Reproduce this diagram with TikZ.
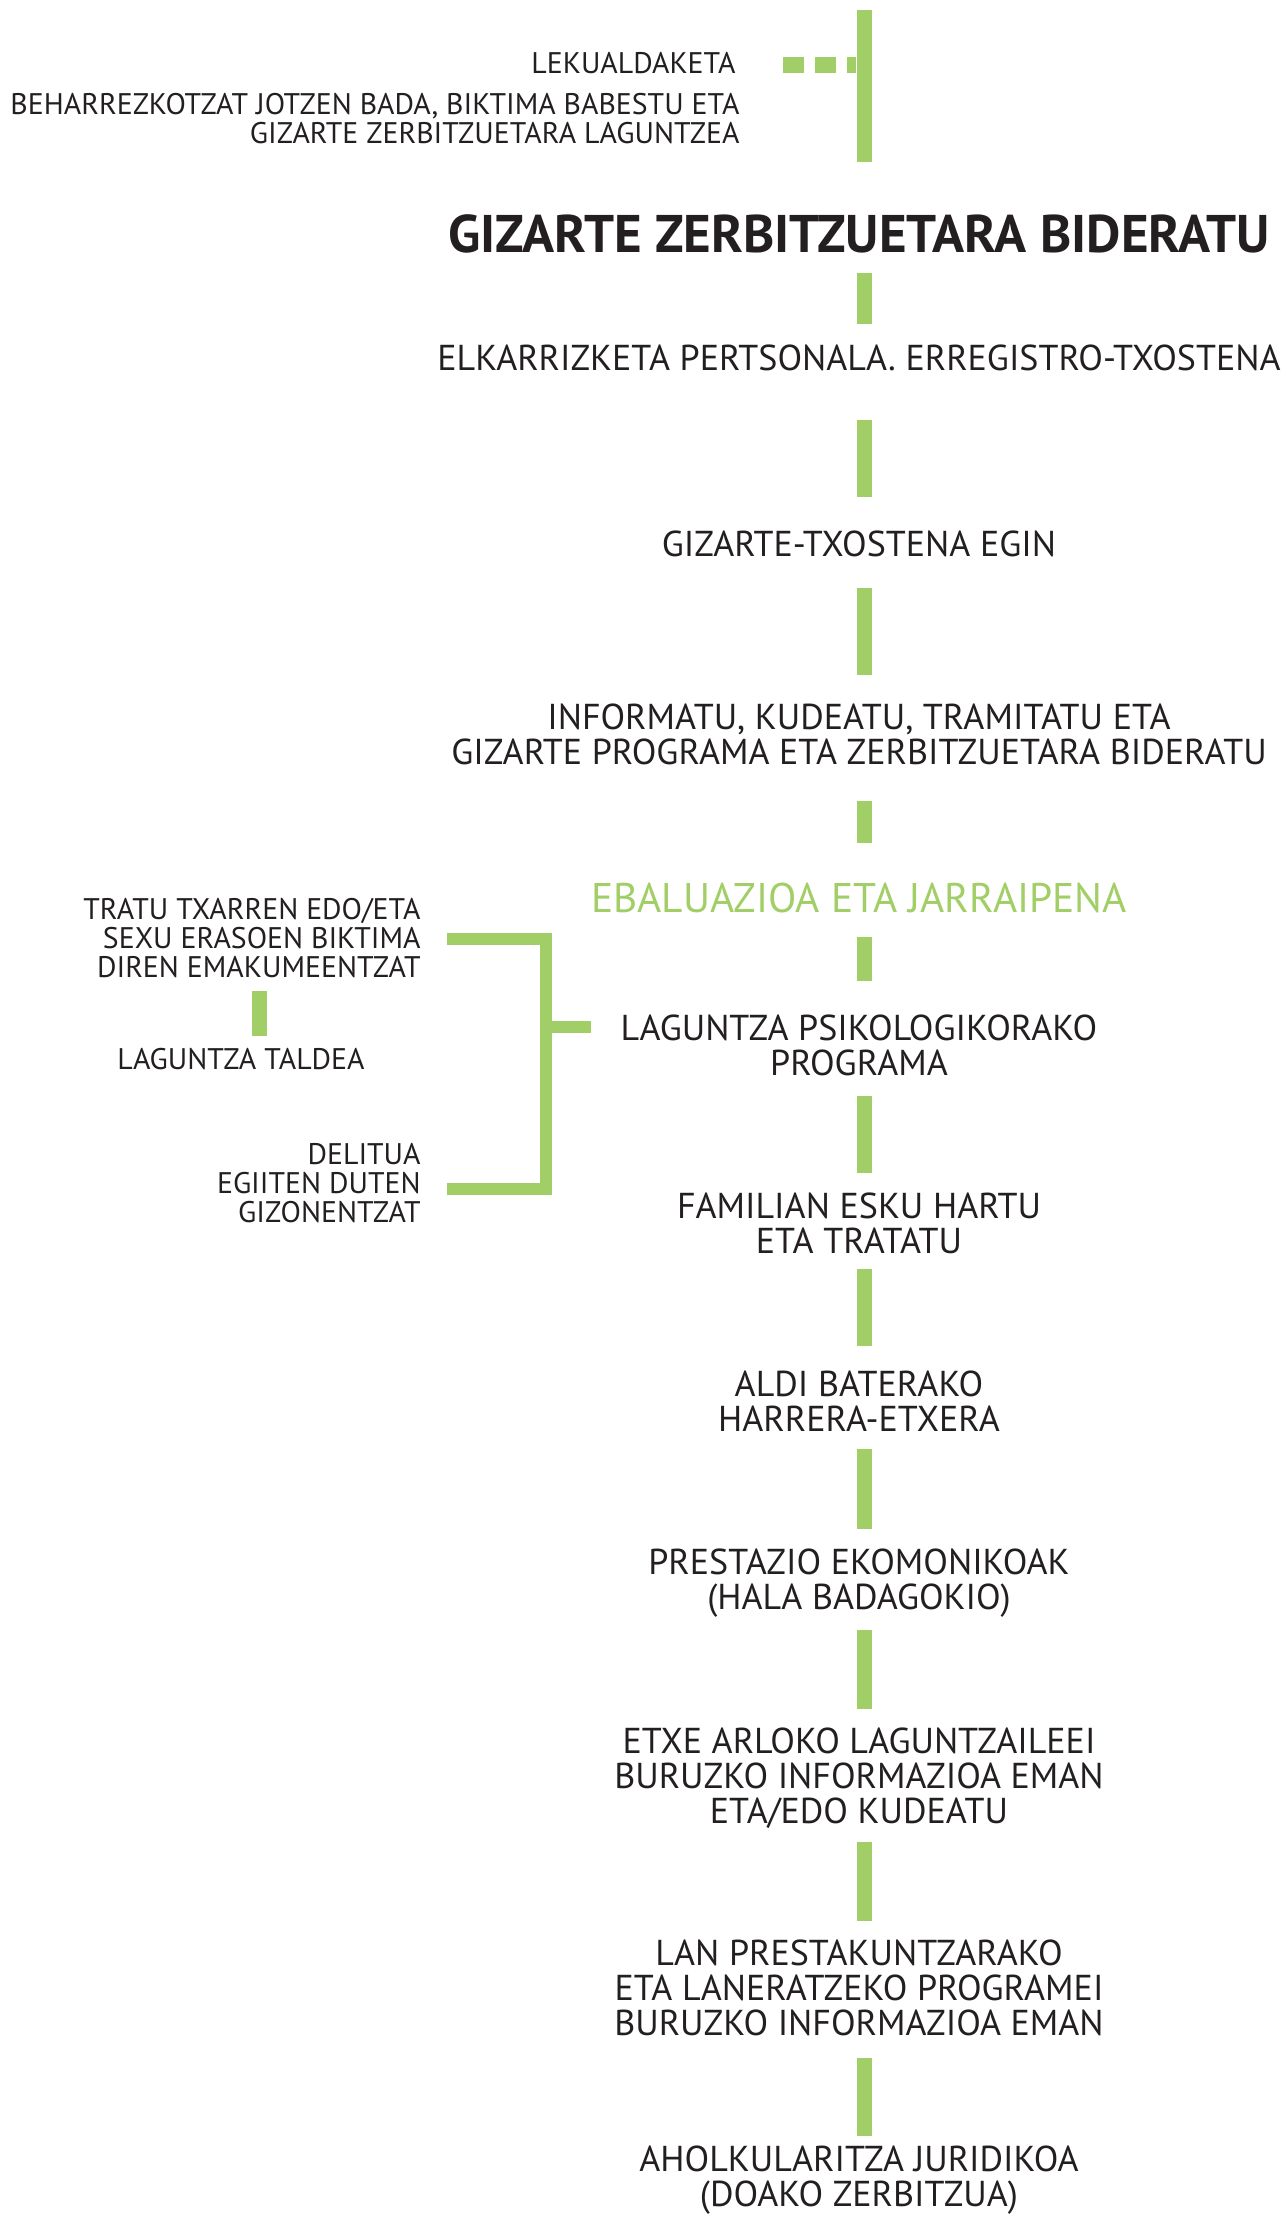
\documentclass[tikz,border=0pt]{standalone}
\usepackage{fontspec}
\setmainfont{PT Sans}
\definecolor{lgreen}{RGB}{162,206,103}
\definecolor{ink}{RGB}{35,31,32}
\newcommand{\GreenBar}[3]{
\coordinate (#1T) at (864,#2);
\coordinate (#1B) at (864,#3);
\draw[bar] (#1T)--(#1B);
}

\begin{document}
\begin{tikzpicture}[x=0.5pt, y=-0.5pt,
bar/.style={draw=lgreen, line width=7.5pt},
bracket/.style={draw=lgreen, line width=6pt},
stage/.style={font=\fontsize{18}{17.5}\selectfont, text=ink, align=center, inner sep=0, anchor=base},
side/.style={font=\fontsize{14.9}{14.5}\selectfont, text=ink, align=right, inner sep=0, anchor=base east},
title/.style={font=\bfseries\fontsize{26.5}{28}\selectfont, text=ink, inner sep=0, anchor=base},
review/.style={stage, text=lgreen, font=\fontsize{20.7}{20}\selectfont}]
\useasboundingbox (0,0) rectangle (1287,2215);
%%%%%%%%%%%%%%%%%%%%%%% TOP %%%%%%%%%%%%%%%%%%%%%%%
\node[side] (move) at (736,74) {LEKUALDAKETA};
\node[side] (protect) at (740,144) {BEHARREZKOTZAT JOTZEN BADA, BIKTIMA BABESTU ETA\\GIZARTE ZERBITZUETARA LAGUNTZEA};
\GreenBar{b0}{10}{162}
\coordinate (moveA) at (783,65);
\coordinate (moveB) at (856,65);
\draw[draw=lgreen, line width=8pt, dash pattern=on 10.5pt off 5.5pt] (moveA)--(moveB);
\node[title] (refer) at (859,253) {GIZARTE ZERBITZUETARA BIDERATU};
%%%%%%%%%%%%%%%%%%%%%%% MAIN COLUMN %%%%%%%%%%%%%%%%%%%%%%%
\GreenBar{b1}{273}{324}
\node[stage] (interview) at (859,370) {ELKARRIZKETA PERTSONALA. ERREGISTRO-TXOSTENA};
\GreenBar{b2}{420}{497}
\node[stage] (report) at (859,556) {GIZARTE-TXOSTENA EGIN};
\GreenBar{b3}{588}{675}
\node[stage] (inform) at (859,764) {INFORMATU, KUDEATU, TRAMITATU ETA\\GIZARTE PROGRAMA ETA ZERBITZUETARA BIDERATU};
\GreenBar{b4}{801}{843}
\node[review] (review) at (859,912) {EBALUAZIOA ETA JARRAIPENA};
\GreenBar{b5}{937}{981}
\node[stage] (psy) at (859,1075) {LAGUNTZA PSIKOLOGIKORAKO\\PROGRAMA};
\GreenBar{b6}{1096}{1173}
\node[stage] (family) at (859,1253) {FAMILIAN ESKU HARTU\\ETA TRATATU};
\GreenBar{b7}{1269}{1346}
\node[stage] (shelter) at (859,1431) {ALDI BATERAKO\\HARRERA-ETXERA};
\GreenBar{b8}{1449}{1529}
\node[stage] (benefit) at (859,1609) {PRESTAZIO EKOMONIKOAK\\(HALA BADAGOKIO)};
\GreenBar{b9}{1630}{1709}
\node[stage] (home) at (859,1823) {ETXE ARLOKO LAGUNTZAILEEI\\BURUZKO INFORMAZIOA EMAN\\ETA/EDO KUDEATU};
\GreenBar{b10}{1842}{1921}
\node[stage] (job) at (859,2035) {LAN PRESTAKUNTZARAKO\\ETA LANERATZEKO PROGRAMEI\\BURUZKO INFORMAZIOA EMAN};
\GreenBar{b11}{2058}{2136}
\node[stage] (legal) at (859,2206) {AHOLKULARITZA JURIDIKOA\\(DOAKO ZERBITZUA)};
%%%%%%%%%%%%%%%%%%%%%%% LEFT BRANCH %%%%%%%%%%%%%%%%%%%%%%%
\node[side] (women) at (421,977) {TRATU TXARREN EDO/ETA\\SEXU ERASOEN BIKTIMA\\DIREN EMAKUMEENTZAT};
\coordinate (grpT) at (259,991);
\coordinate (grpB) at (259,1036);
\draw[bar] (grpT)--(grpB);
\node[stage, font=\fontsize{14.9}{14.5}\selectfont] (group) at (241,1069) {LAGUNTZA TALDEA};
\node[side] (men) at (421,1222) {DELITUA\\EGIITEN DUTEN\\GIZONENTZAT};
\coordinate (womenE) at (447,939);
\coordinate (menE) at (447,1189);
\coordinate (brMid) at (546,1027);
\coordinate (psyW) at (591,1027);
\draw[bracket] (womenE) -| (brMid) |- (menE);
\draw[bracket] (brMid)--(psyW);
\end{tikzpicture}
\end{document}
